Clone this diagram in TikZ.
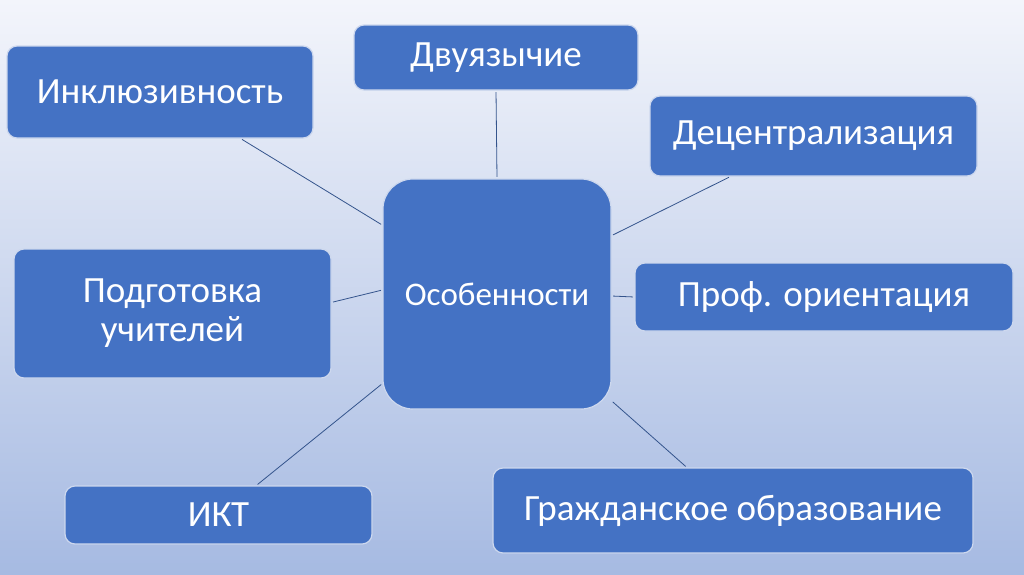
\documentclass[tikz,border=0pt]{standalone}
\usepackage{fontspec}
\setmainfont{Carlito}
\usetikzlibrary{positioning, calc, backgrounds}
\definecolor{BoxBlue}{RGB}{68,114,196}
\definecolor{BoxEdge}{RGB}{205,216,238}
\definecolor{LinkBlue}{RGB}{52,84,140}
\definecolor{BgTop}{RGB}{243,245,251}
\definecolor{BgBottom}{RGB}{166,186,226}

\begin{document}
\begin{tikzpicture}[x=1pt,y=-1pt,
  topic/.style={draw=BoxEdge, line width=1.2pt, fill=BoxBlue, rounded corners=10pt,
    text=white, font=\fontsize{37}{39}\selectfont, align=center, inner sep=0pt},
  hub/.style={topic, rounded corners=30pt, font=\fontsize{33}{38}\selectfont},
  link/.style={draw=LinkBlue, line width=0.8pt, shorten >=1.5pt, shorten <=1.5pt}]
  \useasboundingbox (0,0) rectangle (1024,574);
  \shade[top color=BgTop, bottom color=BgBottom] (0,0) rectangle (1024,574);

  % centre
  \node[hub, minimum width=228pt, minimum height=230pt] (osob) at (497,294) {Особенности};

  % topics round the centre
  \foreach \n/\x/\y/\w/\h/\t in
    {ink/160/92/306/92/{Инклюзивность},
     dvu/496/57.5/284/65/{Двуязычие},
     dec/813.5/136/327/80/{Децентрализация},
     pod/172.5/313.5/317/129/{Подготовка\\учителей},
     prof/824/297/378/68/{Проф. ориентация},
     ikt/218.5/515/307/58/{ИКТ},
     grad/733/510.5/480/85/{Гражданское образование}}
  {
    \node[topic, minimum width=\w pt, minimum height=\h pt] (\n) at (\x,\y) {\t};
  }

  % connectors
  \foreach \a/\b in
    {ink.-30/osob.149, dvu.south/osob.north, dec.206/osob.27,
     pod.4/osob.178, prof.west/osob.-1, ikt.38/osob.218, grad.137/osob.317}
  {
    \draw[link] (\a) -- (\b);
  }
\end{tikzpicture}
\end{document}
